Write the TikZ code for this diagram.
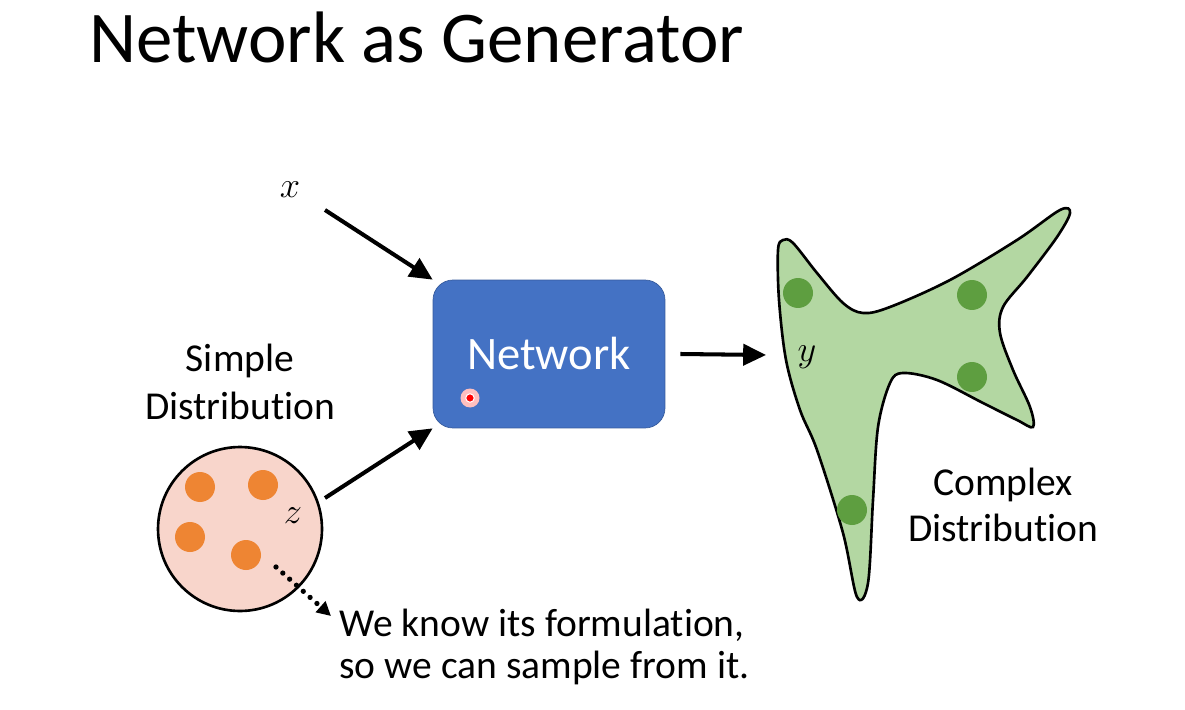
\documentclass[tikz,border=0pt]{standalone}
\usepackage{fontspec}
\setmainfont[Ligatures=NoCommon]{Carlito}
\usetikzlibrary{arrows.meta,positioning}
\definecolor{netblue}{HTML}{4472C4}
\definecolor{simplepink}{HTML}{F8D5CB}
\definecolor{orangedot}{HTML}{EE8533}
\definecolor{blobgreen}{HTML}{B3D7A2}
\definecolor{greendot}{HTML}{5E9E40}
\tikzset{
    netbox/.style={
        rectangle, draw=netblue!80!black, fill=netblue,
        rounded corners=0.4cm, minimum width=4.64cm,
        minimum height=2.96cm, text=white,
        font=\fontsize{26.5}{30}\selectfont
    },
    flow/.style={
        -{Triangle[length=13pt,width=12pt]}, line width=2.3pt
    },
    dotflow/.style={
        -{Triangle[length=8pt,width=8pt]}, line width=3pt,
        line cap=round, dash pattern=on 0pt off 5.2pt
    },
    caption/.style={
        align=center, inner sep=0pt,
        font=\fontsize{22.5}{27}\selectfont
    },
    mathlabel/.style={
        inner sep=0pt, font=\fontsize{21}{24}\selectfont
    },
    sample dot/.style={
        circle, fill=#1, minimum size=0.6cm, inner sep=0pt
    },
}

\begin{document}
\begin{tikzpicture}[x=0.02cm, y=-0.02cm]

    \useasboundingbox (0,0) rectangle (1185,709);

    % title
    \node[anchor=base west, inner sep=0pt, font=\fontsize{41.5}{48}\selectfont]
        (title) at (89,63) {Network as Generator};

    % generator
    \node[netbox] (net) at (549,354) {Network};
    \node[circle, fill=red!25, minimum size=0.38cm, inner sep=0pt] (laser) at (470,398) {};
    \node[circle, fill=red, draw=white, line width=0.6pt, minimum size=0.17cm, inner sep=0pt] at (laser) {};

    % input x
    \node[mathlabel] (xin) at (290,190) {$x$};
    \coordinate (xtail) at (325,210);
    \draw[flow] (xtail) -- (net.north west);

    % simple distribution
    \node[caption] (simplelbl) at (240,382) {Simple\\Distribution};
    \node[circle, draw, line width=1.5pt, fill=simplepink,
          minimum size=3.28cm, inner sep=0pt] (simple) at (240,529) {};
    \node[sample dot=orangedot] (sd1) at (200,487) {};
    \node[sample dot=orangedot] (sd2) at (263,485) {};
    \node[sample dot=orangedot] (sd3) at (190,537) {};
    \node[sample dot=orangedot] (sd4) at (246,555) {};
    \node[mathlabel] (zin) at (293,516) {$z$};
    \coordinate (ztail) at (325,498);
    \draw[flow] (ztail) -- (net.south west);

    \node[caption, align=left, anchor=west] (note) at (339,647)
        {We know its formulation,\\[-3pt]so we can sample from it.};
    \coordinate (dotstart) at (276,567);
    \coordinate (dotend) at (331,616);
    \draw[dotflow] (dotstart) -- (dotend);

    % complex distribution
    \draw[line width=1.5pt, fill=blobgreen] plot[smooth cycle, tension=0.55] coordinates {
        (778,250) (779,300) (786,360) (800,410) (817,450) (843,533) (857,597)
        (868,583) (873,500) (878,427) (890,383) (903,373) (937,380) (983,403)
        (1017,420) (1033,427) (1030,407) (1013,370) (1000,333) (1003,307)
        (1027,277) (1057,237) (1070,213) (1060,210) (1017,240) (950,280)
        (890,307) (863,313) (843,303) (817,273) (793,243) (783,240)
    };
    \node[sample dot=greendot] (cd1) at (798,293) {};
    \node[sample dot=greendot] (cd2) at (972,295) {};
    \node[sample dot=greendot] (cd3) at (972,377) {};
    \node[sample dot=greendot] (cd4) at (852,510) {};
    \node[mathlabel] (yout) at (807,357) {$y$};
    \coordinate (ytip) at (766,355);
    \draw[flow] ([xshift=0.3cm]net.east) -- (ytip);

    \node[caption] (complexlbl) at (1003,505) {Complex\\[-1pt]Distribution};

\end{tikzpicture}
\end{document}
